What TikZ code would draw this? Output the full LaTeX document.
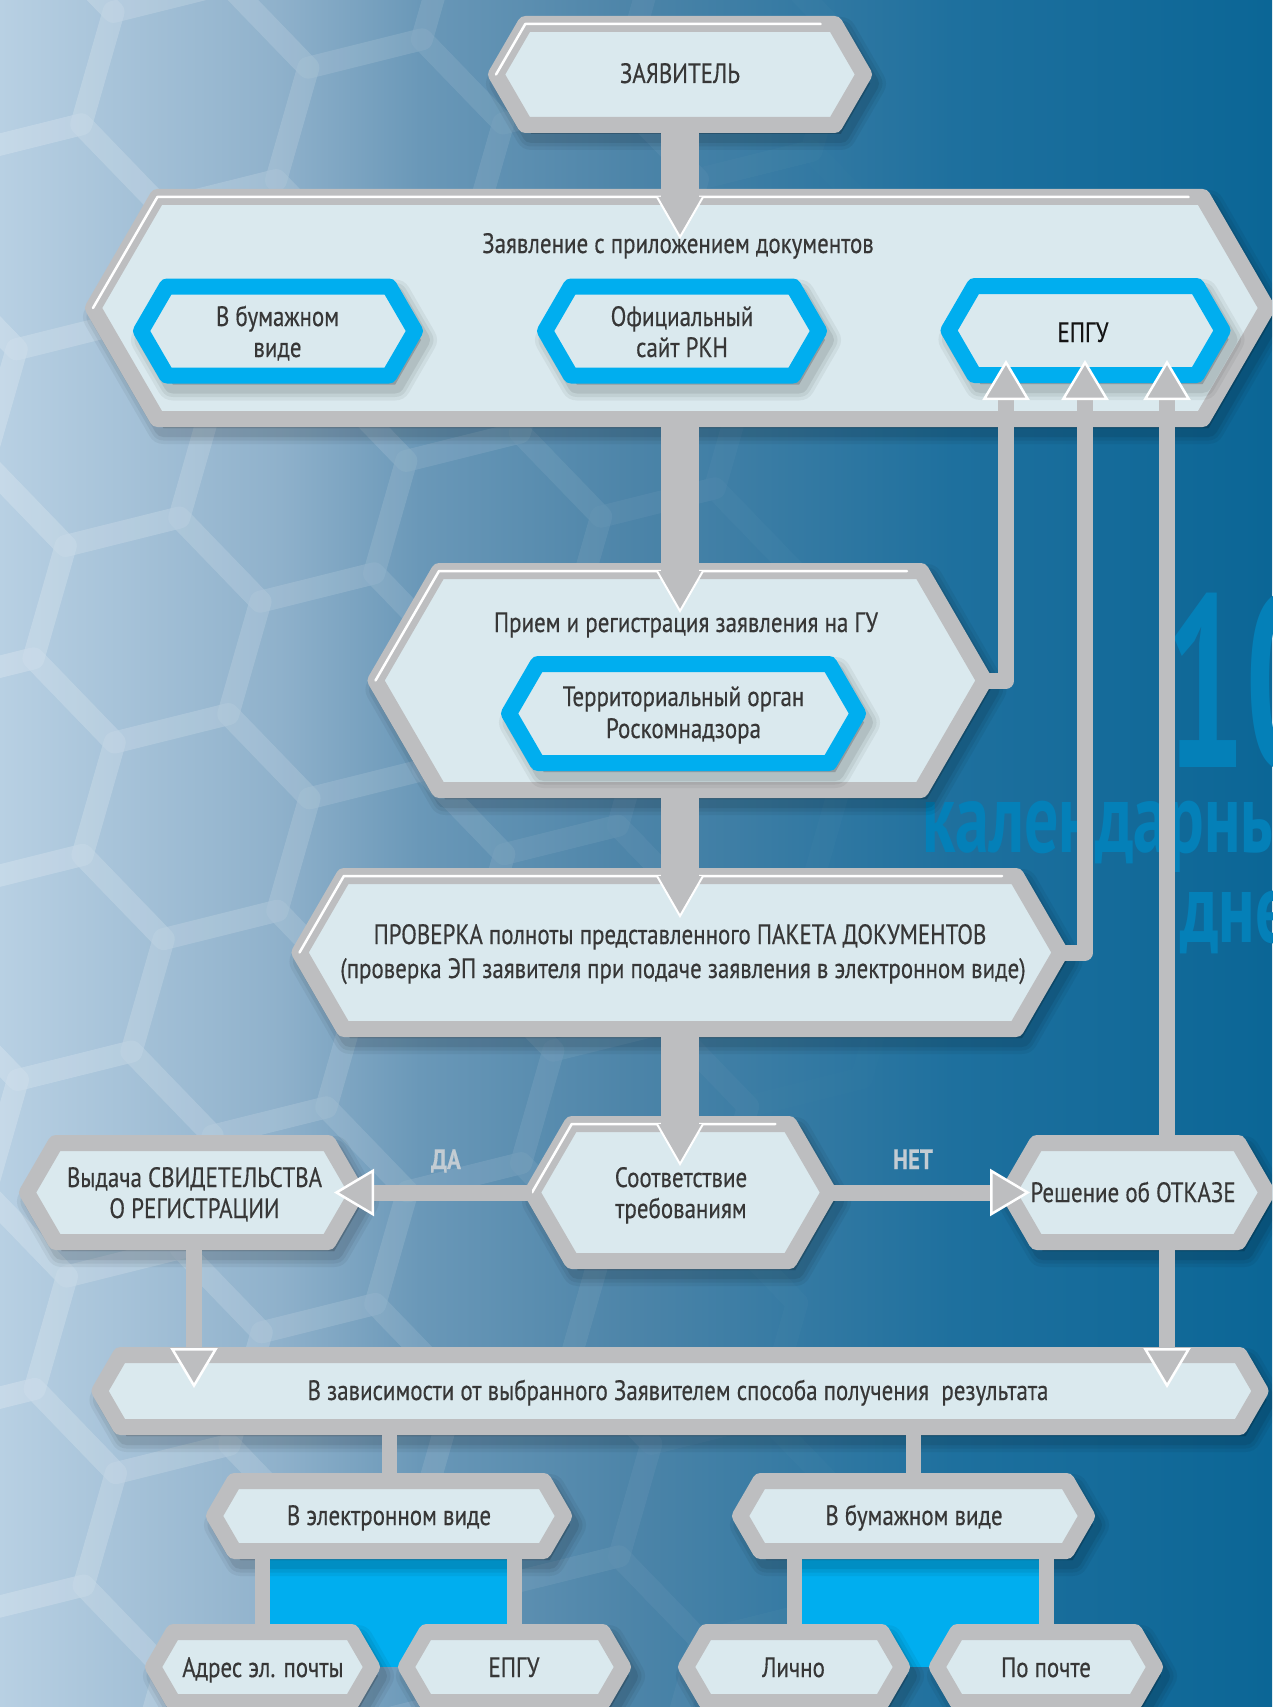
\documentclass[tikz,border=0pt]{standalone}
\usepackage{fontspec}
\setmainfont{PT Sans}[FakeStretch=0.82,FakeBold=0.4]
\newfontfamily\bigfont{PT Sans}[FakeStretch=0.68]
\newfontfamily\bigfontN{PT Sans}[FakeStretch=0.58]
\usetikzlibrary{calc,arrows.meta}
\definecolor{cgray}{RGB}{189,190,192}
\definecolor{cfill}{RGB}{218,233,238}
\definecolor{cblue}{RGB}{0,174,239}
\definecolor{ctext}{RGB}{55,55,55}
\definecolor{cdark}{RGB}{20,20,20}
\definecolor{cbig}{RGB}{4,128,184}
\definecolor{clabel}{RGB}{195,204,211}
\definecolor{bgA}{RGB}{184,208,227}
\definecolor{bgB}{RGB}{143,177,203}
\definecolor{bgC}{RGB}{106,152,184}
\definecolor{bgD}{RGB}{76,132,168}
\definecolor{bgE}{RGB}{30,112,158}
\definecolor{bgF}{RGB}{11,102,150}
\pgfdeclarehorizontalshading{bgsh}{100bp}{color(0bp)=(bgA); color(25bp)=(bgA); color(36bp)=(bgB); color(41.5bp)=(bgC); color(50bp)=(bgD); color(62.5bp)=(bgE); color(75bp)=(bgF); color(100bp)=(bgF)}
\newcommand{\hexdraw}[5]{%
  \path[#5] ({#1-(#3)},{#2}) -- ({#1-(#3)+0.58*(#4)},{#2-(#4)}) -- ({#1+(#3)-0.58*(#4)},{#2-(#4)}) -- ({#1+(#3)},{#2}) -- ({#1+(#3)-0.58*(#4)},{#2+(#4)}) -- ({#1-(#3)+0.58*(#4)},{#2+(#4)}) -- cycle;}
\newcommand{\hexbox}[6]{%
  \foreach \lw/\op in {32/0.05,25/0.06,18/0.08}{%
    \hexdraw{#2+6}{#3+9}{#4}{#5}{draw=black,fill=black,line width=\lw,line join=round,opacity=\op}}%
  \hexdraw{#2}{#3}{#4}{#5}{draw=#6,fill=cfill,line width=16,line join=round}%
  \node[inner sep=0pt,outer sep=0pt,minimum width={2*(#4)*1pt},minimum height={2*(#5)*1pt}] (#1) at ({#2},{#3}) {};}
\newcommand{\hilite}[4]{%
  \draw[white,line width=2.5pt,line join=round,line cap=round] ({#1+(#3)-0.58*(#4)-14},{#2-(#4)}) -- ({#1-(#3)+0.58*(#4)},{#2-(#4)}) -- ({#1-(#3)},{#2});}
\newcommand{\thickconn}[2]{%
  \draw[thickbar] (#1.south) -- (#1.south |- #2.north);
  \path[fill=cgray] ($(#1.south |- #2.north)+(-23,0)$) -- ++(23,40) -- ++(23,-40) -- cycle;
  \draw[white,line width=2pt,line join=miter] ($(#1.south |- #2.north)+(-23,0)$) -- ++(23,40) -- ++(23,-40);}
\tikzset{
  txt/.style={text=ctext,inner sep=0pt,anchor=base,font=\fontsize{28}{32}\selectfont},
  lbl/.style={text=clabel,inner sep=0pt,anchor=base,font=\bfseries\fontsize{28}{32}\selectfont},
  bigtxt/.style={text=cbig,inner sep=0pt,anchor=base west},
  conn/.style={draw=cgray,line width=16pt,line join=round},
  arr/.style={conn,-{Triangle[width=47pt,length=40pt,color=white,fill=cgray,line width=2.5pt]}},
  tree/.style={draw=cgray,line width=15pt},
  thickbar/.style={draw=cgray,line width=38pt},
}
\begin{document}
\begin{tikzpicture}[x=1pt,y=-1pt]
\useasboundingbox (0,0) rectangle (1272,1707);
\clip (0,0) rectangle (1272,1707);
\shade[shading=bgsh] (0,0) rectangle (1272,1707);
% honeycomb texture
\foreach \i in {-3,...,7}{
  \foreach \j in {-4,...,6}{
    \pgfmathsetmacro\cx{147+\i*194.8+\j*49.0}
    \pgfmathsetmacro\cy{630+\i*55.8+\j*196.6}
    \pgfmathsetmacro\op{max(0,0.11*(1-\cx/850))}
    \ifdim\op pt>0.001pt
      \draw[white,opacity=\op,line width=22,line join=round,shift={(\cx,\cy)}] (-14:117) -- (46:117) -- (106:117) -- (166:117) -- (226:117) -- (286:117) -- cycle;
    \fi
  }
}
% big faint text
\node[bigtxt,font=\bigfontN\bfseries\fontsize{245}{245}\selectfont] (ten) at (1165,767) {10};
\node[bigtxt,font=\bigfont\bfseries\fontsize{100}{100}\selectfont] (kal) at (922,852) {календарных};
\node[bigtxt,font=\bigfont\bfseries\fontsize{100}{100}\selectfont] (dney) at (1180,942) {дней};

% boxes
\hexbox{zayavitel}{680}{74.5}{184}{50.5}{cgray}
\hilite{680}{74.5}{184}{50.5}
\node[txt] (zayavitel-t) at (680,83) {ЗАЯВИТЕЛЬ};

\hexbox{zayav}{680}{308}{587}{111}{cgray}
\hilite{680}{308}{587}{111}
\node[txt] (zayav-t) at (678,253) {Заявление с приложением документов};

\hexbox{bum}{278}{331}{137}{44.5}{cblue}
\node[txt] (bum-t1) at (277.5,326) {В бумажном};
\node[txt] (bum-t2) at (277.5,357) {виде};
\hexbox{site}{682}{331}{137}{44.5}{cblue}
\node[txt] (site-t1) at (682,326) {Официальный};
\node[txt] (site-t2) at (682,357) {сайт РКН};
\hexbox{epgu}{1085.5}{330.5}{137}{44.5}{cblue}
\node[txt,text=cdark] (epgu-t) at (1083,342) {ЕПГУ};

\hexbox{priem}{680}{680.5}{304.5}{109.5}{cgray}
\hilite{680}{680.5}{304.5}{109.5}
\node[txt] (priem-t) at (686,632) {Прием и регистрация заявления на ГУ};
\hexbox{terr}{683.5}{713.5}{174.5}{49.5}{cblue}
\node[txt] (terr-t1) at (683.5,706) {Территориальный орган};
\node[txt] (terr-t2) at (683.5,738) {Роскомнадзора};

\hexbox{prov}{680}{952.5}{380.5}{76.5}{cgray}
\hilite{680}{952.5}{380.5}{76.5}
\node[txt] (prov-t1) at (680,944) {ПРОВЕРКА полноты представленного ПАКЕТА ДОКУМЕНТОВ};
\node[txt] (prov-t2) at (683,978) {(проверка ЭП заявителя при подаче заявления в электронном виде)};

\hexbox{sootv}{680.5}{1192.5}{148.5}{68.5}{cgray}
\hilite{680.5}{1192.5}{148.5}{68.5}
\node[txt] (sootv-t1) at (681,1187) {Соответствие};
\node[txt] (sootv-t2) at (681,1218) {требованиям};

\hexbox{vyd}{192}{1192.5}{165}{49.5}{cgray}
\node[txt] (vyd-t1) at (194.5,1187) {Выдача СВИДЕТЕЛЬСТВА};
\node[txt] (vyd-t2) at (194.5,1218) {О РЕГИСТРАЦИИ};

\hexbox{resh}{1137.5}{1192.5}{129.5}{49.5}{cgray}
\node[txt] (resh-t) at (1133,1202) {Решение об ОТКАЗЕ};

\hexbox{wide}{680}{1391}{580.5}{36}{cgray}
\node[txt] (wide-t) at (678,1400) {В зависимости от выбранного Заявителем способа получения\ \ результата};

% blue panels behind the lowest level
\fill[cblue] (270,1559) rectangle (507,1667);
\fill[cblue] (801.5,1559) rectangle (1038.5,1667);

\hexbox{elec}{389}{1516}{175}{35}{cgray}
\node[txt] (elec-t) at (389,1525) {В электронном виде};
\hexbox{paper}{913.5}{1516}{173.5}{35}{cgray}
\node[txt] (paper-t) at (914,1525) {В бумажном виде};

\hexbox{email}{262.5}{1667}{109.5}{35}{cgray}
\node[txt] (email-t) at (263,1677) {Адрес эл. почты};
\hexbox{epgu2}{514.5}{1667}{108.5}{35}{cgray}
\node[txt] (epgu2-t) at (514,1677) {ЕПГУ};
\hexbox{lichno}{794}{1667}{108}{35}{cgray}
\node[txt] (lichno-t) at (793.5,1677) {Лично};
\hexbox{pochta}{1046}{1667}{109}{35}{cgray}
\node[txt] (pochta-t) at (1046,1677) {По почте};

% thick main flow
\thickconn{zayavitel}{zayav}
\thickconn{zayav}{priem}
\thickconn{priem}{prov}
\thickconn{prov}{sootv}

% returns to EPGU
\coordinate (inA) at ($(epgu.south)+(-79.5,-15)$);
\coordinate (inB) at ($(epgu.south)+(-0.5,-15)$);
\coordinate (inC) at ($(epgu.south)+(81.5,-15)$);
\draw[arr] (priem.east) -- (priem.east -| inA) -- (inA);
\draw[arr] (prov.east) -- (prov.east -| inB) -- (inB);
\draw[arr] (inC |- resh.north) -- (inC);

% decision branches
\draw[arr] (sootv.west) -- ($(vyd.east)+(-23,0)$);
\draw[arr] (sootv.east) -- ($(resh.west)+(22,0)$);
\node[lbl] (da) at (446,1169) {ДА};
\node[lbl] (net) at (913,1169) {НЕТ};

% to result box
\draw[arr] ($(vyd.south)+(2,0)$) -- ($(vyd.south |- wide.north)+(2,33)$);
\draw[arr] (inC |- resh.south) -- ($(inC |- wide.north)+(0,33)$);

% tree
\draw[tree] (elec.north |- wide.south) -- (elec.north);
\draw[tree] (paper.north |- wide.south) -- (paper.north);
\draw[tree] (email.north |- elec.south) -- (email.north);
\draw[tree] (epgu2.north |- elec.south) -- (epgu2.north);
\draw[tree] (lichno.north |- paper.south) -- (lichno.north);
\draw[tree] (pochta.north |- paper.south) -- (pochta.north);
\end{tikzpicture}
\end{document}
